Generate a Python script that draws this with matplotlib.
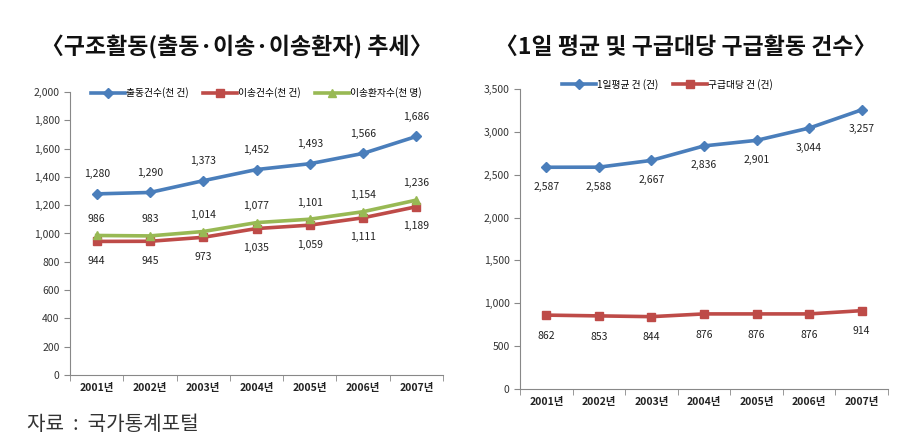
import matplotlib
matplotlib.use('Agg')
import matplotlib.pyplot as plt
import numpy as np

plt.rcParams['font.family'] = ['Noto Sans CJK KR', 'DejaVu Sans']

years = ['2001년', '2002년', '2003년', '2004년', '2005년', '2006년', '2007년']

# left chart
dispatch = [1280, 1290, 1373, 1452, 1493, 1566, 1686]
transport = [944, 945, 973, 1035, 1059, 1111, 1189]
patients = [986, 983, 1014, 1077, 1101, 1154, 1236]
left_names = ['출동건수(천 건)', '이송건수(천 건)', '이송환자수(천 명)']

# right chart
daily_avg = [2587, 2588, 2667, 2836, 2901, 3044, 3257]
per_unit = [862, 853, 844, 876, 876, 876, 914]
right_names = ['1일평균 건 (건)', '구급대당 건 (건)']

BLUE = '#4a7ebb'
RED = '#be4b48'
GREEN = '#98b954'

fig = plt.figure(figsize=(9.23, 4.38), dpi=100)
W, H = 923, 438
ax1 = fig.add_axes([70 / W, 1 - 375 / H, 373 / W, 283 / H])
ax2 = fig.add_axes([520 / W, 1 - 389 / H, 368 / W, 300 / H])

x = np.arange(len(years))


def style(ax, ymax, step):
    ax.set_xlim(-0.5, len(years) - 0.5)
    ax.set_ylim(0, ymax)
    ax.set_yticks(np.arange(0, ymax + 1, step))
    ax.yaxis.set_major_formatter(matplotlib.ticker.FuncFormatter(lambda v, p: f'{int(v):,}'))
    ax.set_xticks(x)
    ax.set_xticklabels(years, fontsize=7.5, fontweight='bold', color='#222222')
    ax.set_xticks(np.arange(-0.5, len(years)), minor=True)
    ax.tick_params(axis='x', which='major', length=0, pad=6)
    ax.tick_params(axis='x', which='minor', length=4, color='#888888')
    ax.tick_params(axis='y', length=4, color='#888888', labelsize=7.5, labelcolor='#333333')
    for s in ['top', 'right']:
        ax.spines[s].set_visible(False)
    for s in ['left', 'bottom']:
        ax.spines[s].set_color('#888888')
        ax.spines[s].set_linewidth(0.8)


def labels(ax, vals, dy):
    for xi, v in zip(x, vals):
        ax.annotate(f'{v:,}', (xi, v), xytext=(0, dy), textcoords='offset points',
                    ha='center', va='center', fontsize=7.5, color='#222222')


# left
ax1.plot(x, dispatch, color=BLUE, lw=2.6, marker='D', ms=5.5, label=left_names[0])
ax1.plot(x, transport, color=RED, lw=2.6, marker='s', ms=5.5, label=left_names[1])
ax1.plot(x, patients, color=GREEN, lw=2.6, marker='^', ms=6, label=left_names[2])
style(ax1, 2000, 200)
labels(ax1, dispatch, 14)
labels(ax1, transport, -14)
labels(ax1, patients, 12)
ax1.legend(loc='lower center', bbox_to_anchor=(0.5, 0.965), ncol=3, frameon=False,
           fontsize=7, handlelength=3.5, columnspacing=1.5, handletextpad=0.1,
           borderaxespad=0)

# right
ax2.plot(x, daily_avg, color=BLUE, lw=2.6, marker='D', ms=5.5, label=right_names[0])
ax2.plot(x, per_unit, color=RED, lw=2.6, marker='s', ms=5.5, label=right_names[1])
style(ax2, 3500, 500)
labels(ax2, daily_avg, -14)
labels(ax2, per_unit, -15)
ax2.legend(loc='lower center', bbox_to_anchor=(0.4, 0.985), ncol=2, frameon=False,
           fontsize=7, handlelength=3.5, columnspacing=1.5, handletextpad=0.1,
           borderaxespad=0)

fig.text(237 / W, 1 - 47 / H, '〈구조활동(출동·이송·이송환자) 추세〉', ha='center', va='center',
         fontsize=16.5, fontweight='bold', color='#111111')
fig.text(686 / W, 1 - 47 / H, '〈1일 평균 및 구급대당 구급활동 건수〉', ha='center', va='center',
         fontsize=16.5, fontweight='bold', color='#111111')
fig.text(27 / W, 1 - 424 / H, '자료  :  국가통계포털', ha='left', va='center',
         fontsize=14.5, fontweight='light', color='#333333')

fig.savefig('out.png', dpi=100)
